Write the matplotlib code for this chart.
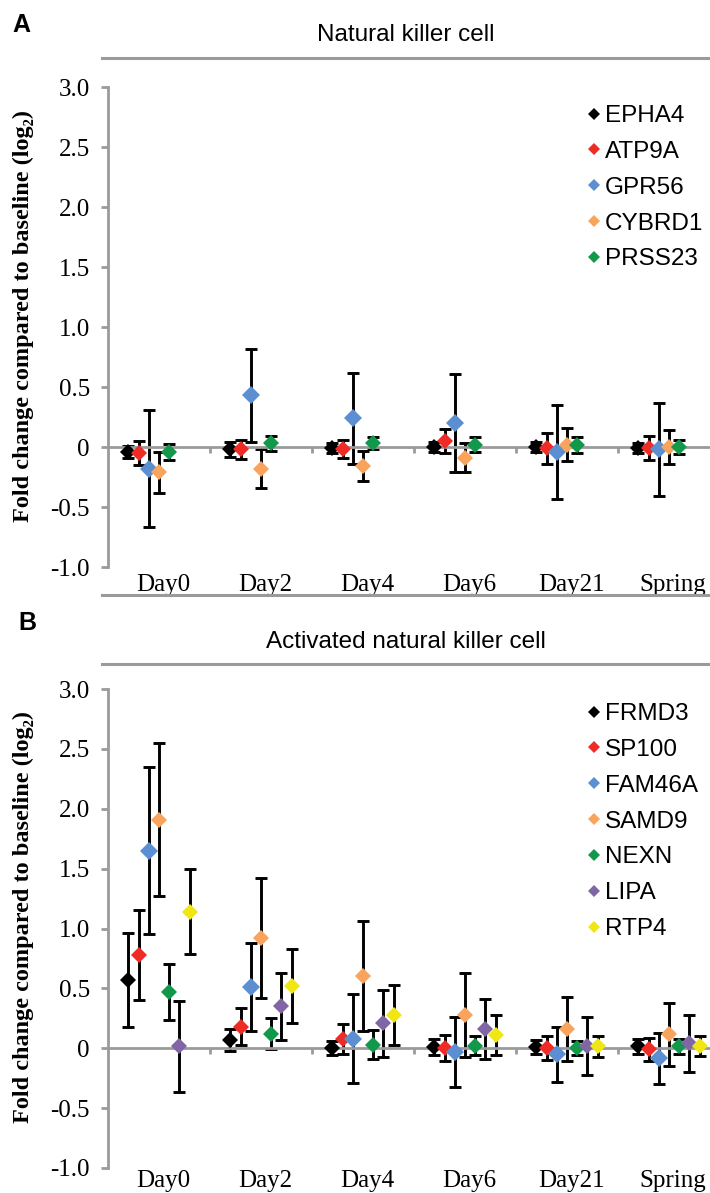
import matplotlib.pyplot as plt
from matplotlib.lines import Line2D
import numpy as np

SERIF = ['Liberation Serif', 'DejaVu Serif']
SANS = ['Liberation Sans', 'DejaVu Sans']
GREY = '#9a9a9a'

days = ['Day0', 'Day2', 'Day4', 'Day6', 'Day21', 'Spring']

# Panel A - natural killer cell (mean and SD, log2 fold change)
genes_a = ['EPHA4', 'ATP9A', 'GPR56', 'CYBRD1', 'PRSS23']
colors_a = ['#000000', '#ee2b24', '#5b8fd1', '#f8a45c', '#12984a']
mean_a = [
    [-0.04, -0.02, -0.01, 0.00, 0.00, -0.01],
    [-0.05, -0.02, -0.02, 0.05, -0.01, -0.01],
    [-0.18, 0.43, 0.24, 0.20, -0.04, -0.02],
    [-0.21, -0.18, -0.16, -0.09, 0.02, 0.00],
    [-0.04, 0.03, 0.03, 0.02, 0.015, 0.00],
]
sd_a = [
    [0.05, 0.06, 0.04, 0.04, 0.04, 0.04],
    [0.10, 0.08, 0.075, 0.10, 0.13, 0.10],
    [0.49, 0.39, 0.38, 0.41, 0.39, 0.39],
    [0.17, 0.16, 0.125, 0.12, 0.14, 0.145],
    [0.065, 0.06, 0.05, 0.065, 0.065, 0.055],
]

# Panel B - activated natural killer cell
genes_b = ['FRMD3', 'SP100', 'FAM46A', 'SAMD9', 'NEXN', 'LIPA', 'RTP4']
colors_b = ['#000000', '#ee2b24', '#5b8fd1', '#f8a45c', '#12984a', '#8066a4', '#f0e614']
mean_b = [
    [0.57, 0.07, 0.00, 0.01, 0.01, 0.015],
    [0.78, 0.18, 0.08, 0.00, 0.00, -0.01],
    [1.65, 0.51, 0.08, -0.03, -0.05, -0.085],
    [1.91, 0.92, 0.60, 0.28, 0.16, 0.115],
    [0.47, 0.12, 0.03, 0.02, 0.00, 0.015],
    [0.015, 0.35, 0.21, 0.16, 0.02, 0.04],
    [1.14, 0.52, 0.28, 0.11, 0.015, 0.02],
]
sd_b = [
    [0.39, 0.09, 0.06, 0.065, 0.06, 0.06],
    [0.375, 0.155, 0.125, 0.11, 0.10, 0.095],
    [0.70, 0.37, 0.37, 0.29, 0.23, 0.21],
    [0.635, 0.50, 0.46, 0.35, 0.265, 0.26],
    [0.23, 0.13, 0.12, 0.08, 0.06, 0.06],
    [0.38, 0.28, 0.28, 0.25, 0.245, 0.24],
    [0.355, 0.31, 0.25, 0.17, 0.09, 0.085],
]

yticks = [-1.0, -0.5, 0, 0.5, 1.0, 1.5, 2.0, 2.5, 3.0]
ytick_labels = ['-1.0', '-0.5', '0', '0.5', '1.0', '1.5', '2.0', '2.5', '3.0']

W, H = 710, 1193
fig = plt.figure(figsize=(W / 100, H / 100), dpi=100)


def px_box(left, top, right, bottom):
    return [left / W, 1 - bottom / H, (right - left) / W, (bottom - top) / H]


def draw_panel(ax, genes, colors, means, sds, legend_top, label_base):
    x = np.arange(len(days))
    for j, (g, c) in enumerate(zip(genes, colors)):
        xs = x + (j - 3) * 0.1
        ax.errorbar(xs, means[j], yerr=sds[j], fmt='none', ecolor='black',
                    elinewidth=2.1, capsize=4.5, capthick=2.1, zorder=2)
        ms = 9.2 if c == '#5b8fd1' else 8.5
        ax.plot(xs, means[j], ls='none', marker='D', ms=ms, color=c,
                markeredgewidth=0, zorder=3)

    ax.set_ylim(-1, 3)
    ax.set_xlim(-0.5, -0.5 + (W - 108) / 102)
    ax.set_yticks(yticks)
    ax.set_yticklabels(ytick_labels, family=SERIF, fontsize=18)
    ax.set_xticks(np.arange(len(days) - 1) + 0.5)
    ax.set_xticklabels([])
    for s in ['top', 'right']:
        ax.spines[s].set_visible(False)
    ax.spines['bottom'].set_position(('data', 0))
    for s in ['left', 'bottom']:
        ax.spines[s].set_color(GREY)
        ax.spines[s].set_linewidth(2.0)
    ax.tick_params(axis='y', direction='out', length=5, width=2, color=GREY, pad=8)
    ax.tick_params(axis='x', direction='out', length=4, width=2, color=GREY)

    # category names sit under the plot area, baseline given in pixels below it
    h = ax.get_position().height * H
    for i, d in enumerate(days):
        ax.text(i + 0.04, -label_base / h, d, transform=ax.get_xaxis_transform(),
                ha='center', va='baseline', family=SERIF, fontsize=18)

    ax.set_ylabel('Fold change compared to baseline (log\u2082)', family=SERIF,
                  fontsize=17.5, fontweight='bold')
    ax.yaxis.set_label_coords(-0.123, 0.523)

    handles = [Line2D([], [], ls='none', marker='D', ms=6, color=c, markeredgewidth=0)
               for c in colors]
    ax.legend(handles, genes, loc='upper left', frameon=False,
              bbox_to_anchor=(589 / W, 1 - legend_top / H), bbox_transform=fig.transFigure,
              borderpad=0, borderaxespad=0, handlelength=0.45, handletextpad=0.2,
              labelspacing=0.57, prop={'family': SANS, 'size': 17.5})


ax_a = fig.add_axes(px_box(108, 87, W, 567))
draw_panel(ax_a, genes_a, colors_a, mean_a, sd_a, 105, 24)

ax_b = fig.add_axes(px_box(108, 689, W, 1168))
draw_panel(ax_b, genes_b, colors_b, mean_b, sd_b, 703, 19)

# panel headers and separator rules
for y in [57.5, 595, 664]:
    fig.add_artist(Line2D([102 / W, 1], [1 - y / H, 1 - y / H], color=GREY, lw=2.2))
fig.text(406 / W, 1 - 35 / H, 'Natural killer cell', ha='center', va='center',
         family=SANS, fontsize=17.5)
fig.text(406 / W, 1 - 642 / H, 'Activated natural killer cell', ha='center', va='center',
         family=SANS, fontsize=17.5)
fig.text(21 / W, 1 - 25 / H, 'A', ha='center', va='center', family=SANS,
         fontsize=18, fontweight='bold')
fig.text(27 / W, 1 - 623 / H, 'B', ha='center', va='center', family=SANS,
         fontsize=18, fontweight='bold')

fig.savefig('out.png', dpi=100)
